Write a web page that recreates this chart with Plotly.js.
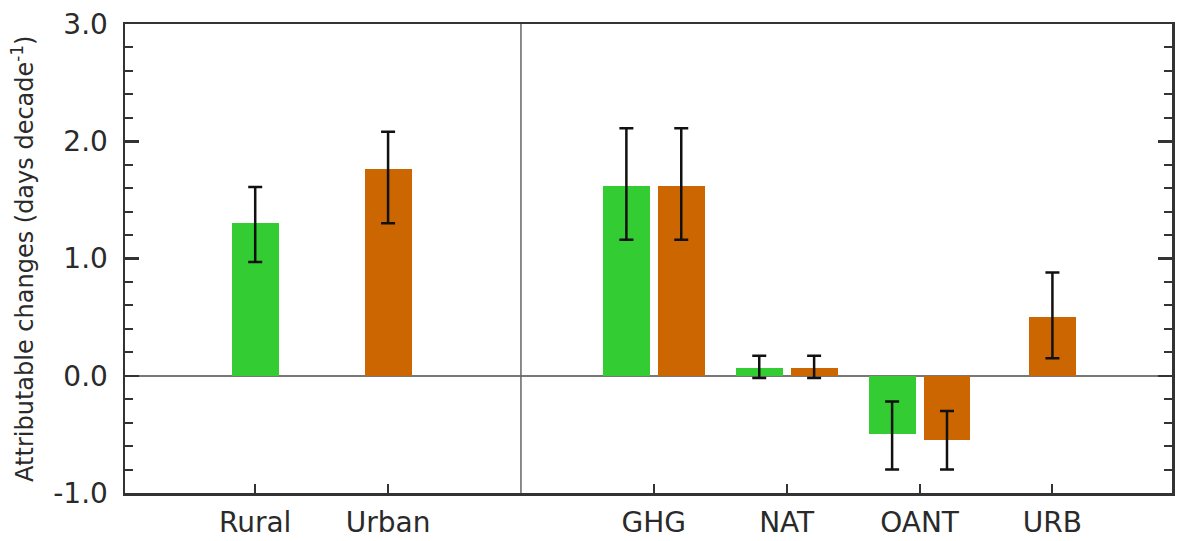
<!DOCTYPE html>
<html>
<head>
<meta charset="utf-8">
<script src="https://cdn.plot.ly/plotly-3.0.1.min.js"></script>
<style>html,body{margin:0;padding:0;background:#fff;}#chart{width:1187px;height:541px;}</style>
</head>
<body>
<div id="chart"></div>
<script>
// ---- data ----
var categories = ['Rural', 'Urban', 'GHG', 'NAT', 'OANT', 'URB'];
var ruralValues = [1.30, null, 1.62, 0.07, -0.50, null];   // green series
var ruralLow    = [0.97, null, 1.16, -0.02, -0.80, null];
var ruralHigh   = [1.61, null, 2.11, 0.17, -0.22, null];
var urbanValues = [null, 1.76, 1.62, 0.07, -0.55, 0.50];   // orange series
var urbanLow    = [null, 1.30, 1.16, -0.02, -0.80, 0.15];
var urbanHigh   = [null, 2.08, 2.11, 0.17, -0.30, 0.88];
var yTickVals   = [-1, 0, 1, 2, 3];
var yTickText   = ['-1.0', '0.0', '1.0', '2.0', '3.0'];
var yTitle      = 'Attributable changes (days decade<sup>-1</sup>)';

// ---- layout helpers ----
// category positions: a blank slot separates observed (Rural/Urban) from attribution factors
var pos = categories.map(function (c, i) { return i < 2 ? i : i + 1; });
var dividerX = (pos[1] + pos[2]) / 2;
var BW = 0.353, GAP = 0.03;

function offsets(own, other, side) {
  return own.map(function (v, i) {
    if (v === null) return 0;
    if (other[i] === null) return -BW / 2;
    return side < 0 ? -GAP - BW : GAP;
  });
}
function errs(vals, lo, hi) {
  return {
    plus: vals.map(function (v, i) { return v === null ? null : hi[i] - v; }),
    minus: vals.map(function (v, i) { return v === null ? null : v - lo[i]; })
  };
}
var eG = errs(ruralValues, ruralLow, ruralHigh);
var eO = errs(urbanValues, urbanLow, urbanHigh);
var oG = offsets(ruralValues, urbanValues, -1);
var oO = offsets(urbanValues, ruralValues, 1);

function centres(offs, vals) {
  return vals.map(function (v, i) { return pos[i] + offs[i] + BW / 2; });
}

var traces = [
  { type: 'bar', x: pos, y: ruralValues, width: BW, offset: oG,
    marker: { color: '#33cc33', line: { width: 0 } }, hoverinfo: 'y', showlegend: false },
  { type: 'bar', x: pos, y: urbanValues, width: BW, offset: oO,
    marker: { color: '#cc6600', line: { width: 0 } }, hoverinfo: 'y', showlegend: false },
  { type: 'scatter', mode: 'markers', x: centres(oG, ruralValues), y: ruralValues,
    marker: { size: 1, color: 'rgba(0,0,0,0)' }, showlegend: false, hoverinfo: 'skip',
    error_y: { type: 'data', symmetric: false, array: eG.plus, arrayminus: eG.minus,
      color: '#111', thickness: 2.5, width: 7 } },
  { type: 'scatter', mode: 'markers', x: centres(oO, urbanValues), y: urbanValues,
    marker: { size: 1, color: 'rgba(0,0,0,0)' }, showlegend: false, hoverinfo: 'skip',
    error_y: { type: 'data', symmetric: false, array: eO.plus, arrayminus: eO.minus,
      color: '#111', thickness: 2.5, width: 7 } }
];

var FONT = 'DejaVu Sans, Liberation Sans, sans-serif';
var layout = {
  width: 1187, height: 541,
  margin: { l: 125, r: 15, t: 24, b: 48 },
  paper_bgcolor: '#fff', plot_bgcolor: '#fff',
  font: { family: FONT, color: '#2a2a2a' },
  xaxis: {
    range: [-0.98, 6.9], tickmode: 'array', tickvals: pos, ticktext: categories,
    ticks: 'inside', ticklen: 9, tickwidth: 2, tickcolor: '#333',
    showline: true, linecolor: '#333', linewidth: 2.5, mirror: true,
    showgrid: false, zeroline: false, fixedrange: true,
    tickfont: { family: FONT, size: 28, color: '#2a2a2a' }, ticklabelstandoff: 3
  },
  yaxis: {
    range: [-1, 3], tickmode: 'array', tickvals: yTickVals, ticktext: yTickText,
    ticks: 'inside', ticklen: 14, tickwidth: 2.5, tickcolor: '#333',
    minor: { ticks: 'inside', ticklen: 8, tickwidth: 2, tickcolor: '#333', dtick: 0.2, showgrid: false },
    showline: true, linecolor: '#333', linewidth: 2.5, mirror: 'allticks',
    showgrid: false, zeroline: true, zerolinecolor: '#777', zerolinewidth: 1.5,
    tickfont: { family: FONT, size: 28, color: '#2a2a2a' }, ticklabelstandoff: 9,
    fixedrange: true
  },
  annotations: [
    { text: yTitle, xref: 'paper', yref: 'paper', x: -0.098, y: 0.5,
      xanchor: 'center', yanchor: 'middle', textangle: -90, showarrow: false,
      font: { family: FONT, size: 24, color: '#2a2a2a' } }
  ],
  shapes: [
    { type: 'line', xref: 'x', yref: 'paper', x0: dividerX, x1: dividerX, y0: 0, y1: 1,
      line: { color: '#666', width: 1.5 } }
  ],
  bargap: 0
};

Plotly.newPlot('chart', traces, layout, { displayModeBar: false, staticPlot: true });
</script>
</body>
</html>
